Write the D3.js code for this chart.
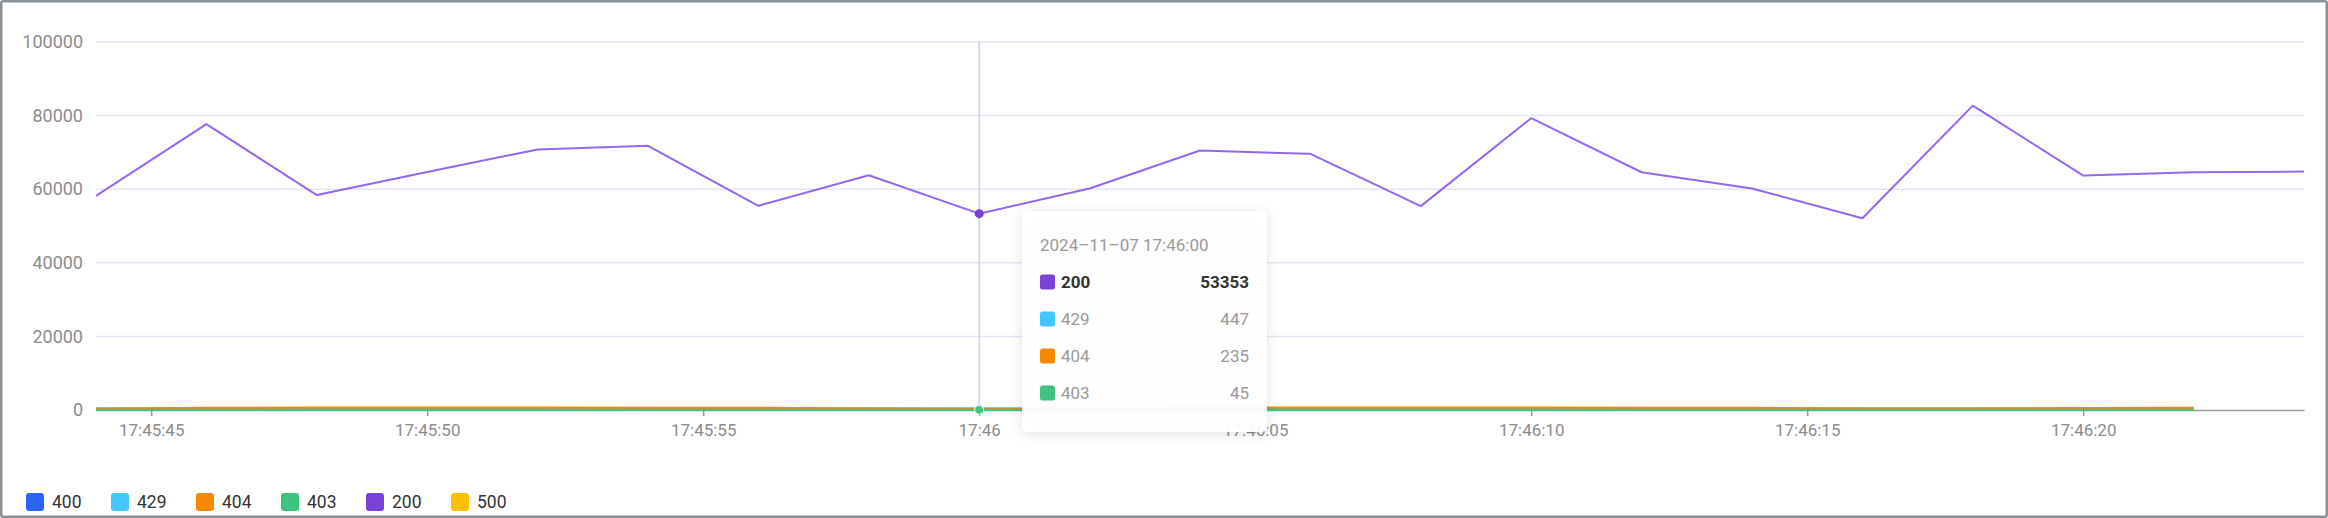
<!DOCTYPE html>
<html>
<head>
<meta charset="utf-8">
<script src="https://cdn.jsdelivr.net/npm/d3@7"></script>
<style>
  html, body { margin: 0; padding: 0; background: #fff; }
  svg { display: block; font-family: Roboto, "Liberation Sans", sans-serif; }
</style>
</head>
<body>
<svg id="chart" width="2328" height="518"></svg>
<script>
// ---- data ----
const startTime = "2024-11-07 17:45:44";
const stepSeconds = 2;
const seriesNames = ["400", "429", "404", "403", "200", "500"];
const seriesColors = ["#2B63FF", "#42C6FF", "#F58A00", "#3CC480", "#7A41D8", "#FAC100"];
const values200 = [58200, 77700, 58400, 64700, 70800, 71800, 55500, 63800, 53353, 60200, 70500, 69600, 55400, 79300, 64600, 60200, 52100, 82700, 63700, 64600, 64800];
const values429 = [420, 460, 430, 450, 440, 470, 430, 450, 447, 440, 460, 430, 450, 480, 440, 430, 460, 450, 470, 440];
const values404 = [300, 560, 640, 620, 650, 600, 560, 400, 235, 300, 620, 650, 660, 640, 600, 560, 380, 360, 540, 560];
const values403 = [40, 55, 50, 48, 52, 46, 50, 44, 45, 50, 48, 52, 47, 50, 49, 51, 46, 50, 48, 47];
const values400 = [8, 10, 6, 9, 7, 12, 8, 6, null, 9, 7, 10, 8, 6, 9, 11, 7, 8, 9, 6];
const values500 = [2, 1, 3, 2, 1, 2, 3, 1, null, 2, 1, 2, 3, 1, 2, 2, 1, 3, 2, 1];
const yTicks = [0, 20000, 40000, 60000, 80000, 100000];
const hoverIndex = 8;

// ---- setup ----
const svg = d3.select("#chart");
const W = 2328, H = 518;
const parse = d3.timeParse("%Y-%m-%d %H:%M:%S");
const t0 = parse(startTime);
const timeAt = i => new Date(t0.getTime() + i * stepSeconds * 1000);

const x = d3.scaleTime()
  .domain([t0, new Date(t0.getTime() + 40000)])
  .range([96, 2304]);
const y = d3.scaleLinear().domain([0, 100000]).range([410, 42]);

// frame
svg.append("rect").attr("x", 1.25).attr("y", 1.25).attr("width", W - 2.5).attr("height", H - 2.5)
  .attr("fill", "#fff").attr("stroke", "#8a9299").attr("stroke-width", 2.5).attr("rx", 2);

// gridlines
svg.append("g").selectAll("line").data(yTicks.filter(d => d > 0)).join("line")
  .attr("x1", x.range()[0]).attr("x2", x.range()[1])
  .attr("y1", d => y(d)).attr("y2", d => y(d))
  .attr("stroke", "#e3e6f4").attr("stroke-width", 1.5);

// y axis labels
const yAxis = d3.axisLeft(y).tickValues(yTicks).tickSize(0).tickPadding(0).tickFormat(d3.format("d"));
const gy = svg.append("g").attr("transform", "translate(83,0)").call(yAxis);
gy.select(".domain").remove();
gy.selectAll("text").attr("fill", "#8c8c8c").attr("font-size", 18).attr("font-family", "Roboto, sans-serif");

// x axis
const xTicks = d3.range(1, 40, 5).map(s => new Date(t0.getTime() + s * 1000));
const fmtTick = d => d.getSeconds() === 0 ? d3.timeFormat("%H:%M")(d) : d3.timeFormat("%H:%M:%S")(d);
const xAxis = d3.axisBottom(x).tickValues(xTicks).tickFormat(fmtTick).tickSize(6).tickPadding(8).tickSizeOuter(0);
const gx = svg.append("g").attr("transform", "translate(0,410)").call(xAxis);
gx.select(".domain").attr("stroke", "#9a9a9a").attr("stroke-width", 1.5);
gx.selectAll(".tick line").attr("stroke", "#9a9a9a").attr("stroke-width", 1.5);
gx.selectAll("text").attr("fill", "#8c8c8c").attr("font-size", 17).attr("font-family", "Roboto, sans-serif");

// lines
const seriesValues = {"400": values400, "429": values429, "404": values404, "403": values403, "200": values200, "500": values500};
const drawOrder = ["400", "500", "429", "404", "403", "200"];
const line = d3.line().defined(d => d != null).x((d, i) => x(timeAt(i))).y(d => y(d));
const lineG = svg.append("g");
drawOrder.forEach(name => {
  const idx = seriesNames.indexOf(name);
  const isMain = name === "200";
  lineG.append("path")
    .datum(seriesValues[name])
    .attr("fill", "none")
    .attr("stroke", isMain ? "#9466F2" : seriesColors[idx])
    .attr("stroke-width", isMain ? 2 : 2.2)
    .attr("stroke-linejoin", "round")
    .attr("d", line);
});

// crosshair
const hx = x(timeAt(hoverIndex));
svg.append("line").attr("x1", hx).attr("x2", hx).attr("y1", y(100000)).attr("y2", y(0))
  .attr("stroke", "#cdd1d9").attr("stroke-width", 1.5);

// hover points
svg.append("circle").attr("cx", hx).attr("cy", y(values200[hoverIndex])).attr("r", 4.5)
  .attr("fill", "#7A41D8");
svg.append("circle").attr("cx", hx).attr("cy", y(values403[hoverIndex])).attr("r", 4.5)
  .attr("fill", "#3CC480").attr("stroke", "#fff").attr("stroke-width", 1);

// tooltip
const defs = svg.append("defs");
const filt = defs.append("filter").attr("id", "shadow").attr("x", "-20%").attr("y", "-20%").attr("width", "140%").attr("height", "140%");
filt.append("feDropShadow").attr("dx", 0).attr("dy", 2).attr("stdDeviation", 6)
  .attr("flood-color", "#000").attr("flood-opacity", 0.12);
const tip = svg.append("g").attr("transform", "translate(1022,211)");
tip.append("rect").attr("width", 245).attr("height", 221).attr("rx", 5)
  .attr("fill", "rgba(255,255,255,0.94)").attr("filter", "url(#shadow)");
tip.append("text").attr("x", 18).attr("y", 40)
  .attr("font-size", 17).attr("fill", "#9a9a9a")
  .text(d3.timeFormat("%Y\u2013%m\u2013%d %H:%M:%S")(timeAt(hoverIndex)));
const rows = seriesNames
  .map((n, i) => ({name: n, color: seriesColors[i], v: seriesValues[n][hoverIndex]}))
  .filter(r => r.v != null && r.name !== "400" && r.name !== "500")
  .sort((a, b) => b.v - a.v);
rows.forEach((r, i) => {
  const cy = 71 + i * 37;
  const bold = i === 0;
  tip.append("rect").attr("x", 18).attr("y", cy - 7.5).attr("width", 15).attr("height", 15).attr("rx", 2.5)
    .attr("fill", r.color);
  tip.append("text").attr("x", 39).attr("y", cy).attr("dy", "0.35em")
    .attr("font-size", 17).attr("font-weight", bold ? 700 : 400)
    .attr("fill", bold ? "#333" : "#9a9a9a").text(r.name);
  tip.append("text").attr("x", 227).attr("y", cy).attr("dy", "0.35em").attr("text-anchor", "end")
    .attr("font-size", 17).attr("font-weight", bold ? 700 : 400)
    .attr("fill", bold ? "#333" : "#9a9a9a").text(r.v);
});

// legend
const leg = svg.append("g").attr("transform", "translate(26,493)");
seriesNames.forEach((n, i) => {
  const g = leg.append("g").attr("transform", `translate(${i * 85},0)`);
  g.append("rect").attr("width", 18).attr("height", 18).attr("rx", 3).attr("fill", seriesColors[i]);
  g.append("text").attr("x", 26).attr("y", 9).attr("dy", "0.36em")
    .attr("font-size", 17.5).attr("fill", "#333").text(n);
});
</script>
</body>
</html>
